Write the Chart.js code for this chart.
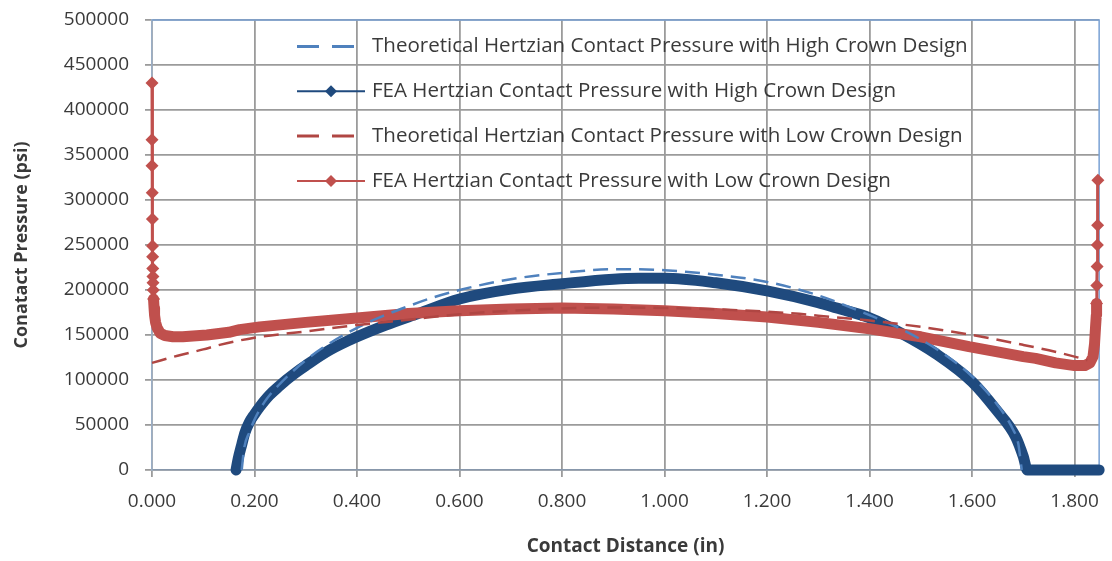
<!DOCTYPE html>
<html>
<head>
<meta charset="utf-8">
<script src="https://cdn.jsdelivr.net/npm/chart.js@4.4.1/dist/chart.umd.min.js"></script>
<style>
  html, body { margin: 0; padding: 0; background: #fff; }
  #wrap { width: 1112px; height: 561px; }
</style>
</head>
<body>
<div id="wrap"><canvas id="chart" width="1112" height="561"></canvas></div>
<script>
// values (in, psi)
const xTicks = [0, 0.2, 0.4, 0.6, 0.8, 1.0, 1.2, 1.4, 1.6, 1.8];
const yTicks = [0, 50000, 100000, 150000, 200000, 250000, 300000, 350000, 400000, 450000, 500000];

const seriesLabels = [
  "Theoretical Hertzian Contact Pressure with High Crown Design",
  "FEA Hertzian Contact Pressure with High Crown Design",
  "Theoretical Hertzian Contact Pressure with Low Crown Design",
  "FEA Hertzian Contact Pressure with Low Crown Design",
];

const blueTheoX = [0.175, 0.18, 0.19, 0.2, 0.22, 0.25, 0.3, 0.35, 0.4, 0.45, 0.5, 0.55, 0.6, 0.7, 0.8, 0.9, 0.95, 1.0, 1.1, 1.2, 1.3, 1.4, 1.45, 1.5, 1.55, 1.6, 1.65, 1.68, 1.69, 1.697];
const blueTheoY = [0, 25000, 42000, 56000, 76000, 96000, 122000, 142000, 158000, 171000, 182000, 192000, 200000, 212000, 219000, 223000, 223000, 222000, 217000, 209000, 194000, 172000, 160000, 145000, 127000, 104000, 72000, 45000, 30000, 0];

const blueFeaX = [0.164, 0.168, 0.175, 0.181, 0.19, 0.2, 0.21, 0.229, 0.25, 0.262, 0.28, 0.3, 0.346, 0.4, 0.456, 0.52, 0.6, 0.7, 0.8, 0.9, 0.95, 1.0, 1.1, 1.2, 1.3, 1.336, 1.4, 1.465, 1.53, 1.6, 1.647, 1.685, 1.7, 1.708, 1.75, 1.8, 1.848];
const blueFeaY = [0, 12000, 28000, 41000, 53000, 62000, 70000, 83000, 94000, 100000, 108000, 116000, 133000, 148000, 161000, 174000, 190000, 201000, 207000, 212000, 213000, 213000, 208000, 199000, 186000, 180000, 169000, 151000, 129000, 98000, 67000, 37000, 15000, 0, 0, 0, 0];

const redTheoX = [0, 0.05, 0.1, 0.132, 0.2, 0.3, 0.4, 0.5, 0.6, 0.7, 0.8, 0.9, 1.0, 1.1, 1.2, 1.263, 1.3, 1.4, 1.5, 1.6, 1.7, 1.75, 1.8, 1.825];
const redTheoY = [119000, 127000, 134000, 139000, 147000, 154000, 161000, 167000, 173000, 177000, 179500, 180500, 180000, 178500, 176000, 173500, 171500, 166000, 159000, 150000, 139000, 133000, 126000, 122000];

const redFeaX = [0, 0, 0, 0.0005, 0.0008, 0.001, 0.0012, 0.0015, 0.0018, 0.002, 0.0025, 0.003, 0.004, 0.005, 0.007, 0.01, 0.016, 0.025, 0.041, 0.06, 0.08, 0.107, 0.15, 0.171, 0.21, 0.3, 0.4, 0.5, 0.6, 0.7, 0.8, 0.9, 1.0, 1.1, 1.2, 1.3, 1.4, 1.465, 1.5, 1.594, 1.7, 1.724, 1.763, 1.8, 1.82, 1.83, 1.836, 1.839, 1.841, 1.8425, 1.843, 1.8435, 1.844, 1.8445, 1.845, 1.8455];
const redFeaY = [430000, 367000, 338000, 308000, 279000, 249000, 237000, 224000, 215000, 208000, 200000, 190000, 180000, 172000, 164000, 158000, 152000, 149500, 148000, 148000, 149000, 150000, 153000, 156000, 159000, 164000, 169000, 174000, 177000, 179000, 180000, 179000, 177000, 174000, 170000, 164000, 157000, 151000, 148000, 137000, 126000, 124000, 119000, 116000, 116000, 119000, 126000, 140000, 159000, 172000, 185000, 205000, 226000, 250000, 272000, 322000];

const BLUE_DARK = "#1f4a7e";
const BLUE_LIGHT = "#4f81bd";
const RED = "#c0504d";
const RED_DARK = "#b04643";
const TEXT = "#3a3a3a";
const GRID = "#9b9b9b";
const FONT = "'Open Sans', sans-serif";
const SPIKE = 185000;

function pts(xs, ys) {
  return xs.map((x, i) => ({ x: x, y: ys[i] }));
}

// legend drawn inside the plot, line sample + optional diamond
const legendPlugin = {
  id: "insideLegend",
  afterDatasetsDraw(chart) {
    const ctx = chart.ctx;
    const rows = [
      { color: BLUE_LIGHT, dash: [22, 13], marker: false },
      { color: BLUE_DARK, dash: [], marker: true },
      { color: RED_DARK, dash: [22, 13], marker: false },
      { color: RED, dash: [], marker: true },
    ];
    ctx.save();
    let size = 18;
    ctx.font = `${size}px ${FONT}`;
    const w = ctx.measureText(seriesLabels[0]).width;
    size = size * 596 / w;
    ctx.font = `${size}px ${FONT}`;
    rows.forEach((r, i) => {
      const y = 46.5 + i * 44.8;
      ctx.strokeStyle = r.color;
      ctx.lineWidth = r.marker ? 2 : 3;
      ctx.setLineDash(r.dash);
      ctx.beginPath();
      ctx.moveTo(297, y);
      ctx.lineTo(r.marker ? 365 : 357, y);
      ctx.stroke();
      ctx.setLineDash([]);
      if (r.marker) {
        ctx.fillStyle = r.color;
        ctx.beginPath();
        ctx.moveTo(331, y - 6);
        ctx.lineTo(337, y);
        ctx.lineTo(331, y + 6);
        ctx.lineTo(325, y);
        ctx.closePath();
        ctx.fill();
      }
      ctx.fillStyle = TEXT;
      ctx.textBaseline = "middle";
      ctx.fillText(seriesLabels[i], 372, y);
    });
    ctx.restore();
  },
};

const framePlugin = {
  id: "frame",
  beforeDatasetsDraw(chart) {
    const a = chart.chartArea;
    const ctx = chart.ctx;
    ctx.save();
    ctx.strokeStyle = "#79a1d4";
    ctx.lineWidth = 1.5;
    ctx.beginPath();
    ctx.moveTo(a.left, a.top);
    ctx.lineTo(a.right, a.top);
    ctx.lineTo(a.right, a.bottom);
    ctx.stroke();
    ctx.restore();
  },
};

new Chart(document.getElementById("chart"), {
  type: "scatter",
  data: {
    datasets: [
      {
        label: seriesLabels[0],
        data: pts(blueTheoX, blueTheoY),
        showLine: true,
        borderColor: BLUE_LIGHT,
        borderWidth: 2.5,
        borderDash: [15, 8],
        pointRadius: 0,
        cubicInterpolationMode: "monotone",
        clip: false,
        order: 1,
      },
      {
        label: seriesLabels[1],
        data: pts(blueFeaX, blueFeaY),
        showLine: true,
        borderColor: BLUE_DARK,
        borderWidth: 11,
        borderCapStyle: "round",
        borderJoinStyle: "round",
        pointRadius: 0,
        cubicInterpolationMode: "monotone",
        clip: false,
        order: 4,
      },
      {
        label: seriesLabels[2],
        data: pts(redTheoX, redTheoY),
        showLine: true,
        borderColor: RED_DARK,
        borderWidth: 2.5,
        borderDash: [15, 8],
        pointRadius: 0,
        cubicInterpolationMode: "monotone",
        clip: false,
        order: 0,
      },
      {
        label: seriesLabels[3],
        data: pts(redFeaX, redFeaY),
        showLine: true,
        borderColor: RED,
        backgroundColor: RED,
        borderWidth: 11,
        borderCapStyle: "round",
        borderJoinStyle: "round",
        segment: {
          borderWidth: (c) => (c.p0.parsed.y >= SPIKE && c.p1.parsed.y >= SPIKE ? 3 : 11),
        },
        pointStyle: "rectRot",
        pointRadius: (c) => (c.raw && c.raw.y >= SPIKE ? 6.5 : 0),
        pointBorderWidth: 0,
        tension: 0,
        clip: false,
        order: 3,
      },
    ],
  },
  options: {
    responsive: false,
    animation: false,
    events: [],
    layout: { padding: { left: 0, right: 9, top: 20, bottom: 0 } },
    plugins: { legend: { display: false }, tooltip: { enabled: false } },
    scales: {
      x: {
        type: "linear",
        min: 0,
        max: 1.848,
        afterBuildTicks: (s) => { s.ticks = xTicks.map((v) => ({ value: v })); },
        afterFit: (s) => { s.height = 91; },
        grid: { color: GRID, lineWidth: 1.8, tickLength: 7 },
        border: { color: "#8797ab", width: 1.5 },
        ticks: {
          callback: (v) => Number(v).toFixed(3),
          font: { family: FONT, size: 19 },
          color: TEXT,
          padding: 13,
          maxRotation: 0,
          autoSkip: false,
        },
        title: {
          display: true,
          text: "Contact Distance (in)",
          font: { family: FONT, size: 19, weight: "bold" },
          color: TEXT,
          padding: { top: 0, bottom: 3 },
        },
      },
      y: {
        min: 0,
        max: 500000,
        afterBuildTicks: (s) => { s.ticks = yTicks.map((v) => ({ value: v })); },
        afterFit: (s) => { s.width = 152; s.paddingTop = 0; s.paddingBottom = 0; },
        grid: { color: GRID, lineWidth: 1.8, tickLength: 7 },
        border: { color: "#9aaec6", width: 1.5 },
        ticks: {
          callback: (v) => String(v),
          font: { family: FONT, size: 19 },
          color: TEXT,
          padding: 16,
          autoSkip: false,
        },
        title: {
          display: true,
          text: "Conatact Pressure (psi)",
          font: { family: FONT, size: 18, weight: "bold" },
          color: TEXT,
          padding: { top: 11, bottom: 0 },
        },
      },
    },
  },
  plugins: [framePlugin, legendPlugin],
});
</script>
</body>
</html>
